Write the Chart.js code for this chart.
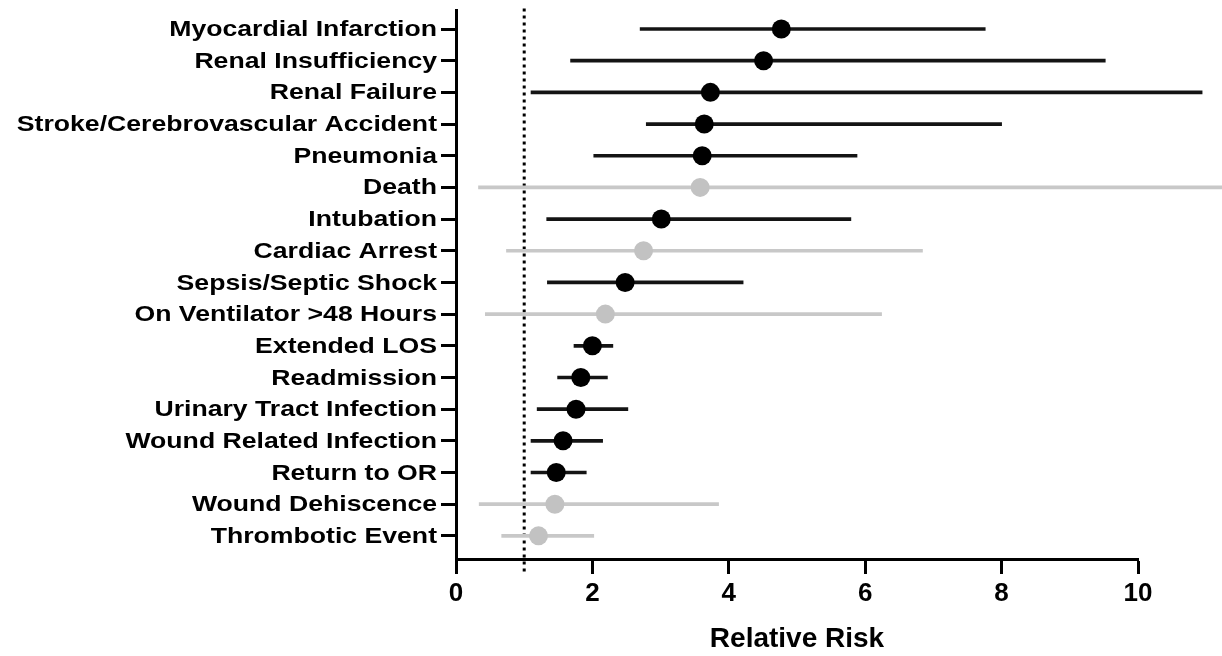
<!DOCTYPE html>
<html lang="en">
<head>
<meta charset="UTF-8">
<title>Relative Risk</title>
<script src="https://cdn.jsdelivr.net/npm/chart.js"></script>
<style>
  body { margin: 0; background: #fff; }
  .box { width: 1222px; height: 656px; }
</style>
</head>
<body>
<div class="box"><canvas id="grafico"></canvas></div>
<script>
const categories = ['Myocardial Infarction', 'Renal Insufficiency', 'Renal Failure',
  'Stroke/Cerebrovascular Accident', 'Pneumonia', 'Death', 'Intubation', 'Cardiac Arrest',
  'Sepsis/Septic Shock', 'On Ventilator >48 Hours', 'Extended LOS', 'Readmission',
  'Urinary Tract Infection', 'Wound Related Infection', 'Return to OR', 'Wound Dehiscence',
  'Thrombotic Event'];
const relRisk = [4.77, 4.51, 3.73, 3.64, 3.61, 3.58, 3.01, 2.75, 2.48, 2.19, 2.00, 1.83, 1.76, 1.57, 1.47, 1.45, 1.21];
const ciLower = [2.70, 1.68, 1.10, 2.79, 2.02, 0.33, 1.33, 0.74, 1.34, 0.43, 1.73, 1.49, 1.19, 1.10, 1.10, 0.34, 0.67];
const ciUpper = [7.76, 9.52, 10.94, 8.00, 5.88, 11.5, 5.79, 6.84, 4.21, 6.24, 2.30, 2.22, 2.52, 2.15, 1.91, 3.85, 2.02];
const significant = [true, true, true, true, true, false, true, false, true, false, true, true, true, true, true, false, false];
const xTicks = [0, 2, 4, 6, 8, 10];
const refLine = 1;

const BLACK = '#000';
const GREY = '#c2c2c2';
const fontFam = '"Liberation Sans", Arial, sans-serif';

const colors = significant.map(s => s ? BLACK : GREY);
const lineColors = significant.map(s => s ? '#141414' : '#c8c8c8');

// the row labels in the figure are set wide, so draw them stretched
const wideLabels = {
  id: 'wideLabels',
  afterDraw(chart) {
    const ys = chart.scales.y;
    const ctx = chart.ctx;
    const x = ys.right - 19;
    ctx.save();
    ctx.fillStyle = BLACK;
    ctx.font = 'bold 22px ' + fontFam;
    ctx.textAlign = 'right';
    ctx.textBaseline = 'middle';
    categories.forEach((c, i) => {
      ctx.save();
      ctx.translate(x, ys.getPixelForValue(i + 1) + 1);
      ctx.scale(1.21, 1);
      ctx.fillText(c, 0, 0);
      ctx.restore();
    });
    ctx.restore();
  }
};

new Chart(document.getElementById('grafico'), {
  type: 'scatter',
  data: {
    datasets: [
      {
        label: 'Relative Risk',
        order: 0,
        data: categories.map((c, i) => ({ x: relRisk[i], y: i + 1 })),
        pointBackgroundColor: colors,
        pointBorderWidth: 0,
        pointRadius: 9.5,
        clip: false
      },
      {
        type: 'bar',
        label: '95% CI',
        order: 1,
        indexAxis: 'y',
        data: categories.map((c, i) => ({ x: [ciLower[i], ciUpper[i]], y: i + 1 })),
        backgroundColor: lineColors,
        borderWidth: 0,
        barThickness: 3,
        clip: false
      },
      {
        type: 'line',
        label: 'ref',
        order: 2,
        data: [{ x: refLine, y: 0.35 }, { x: refLine, y: 18.15 }],
        borderColor: BLACK,
        borderWidth: 3,
        borderDash: [3, 4],
        pointRadius: 0,
        clip: false
      }
    ]
  },
  plugins: [wideLabels],
  options: {
    responsive: true,
    maintainAspectRatio: false,
    animation: false,
    layout: { padding: { top: 10, right: 84, left: 0, bottom: 0 } },
    plugins: {
      legend: { display: false },
      tooltip: { enabled: false }
    },
    scales: {
      x: {
        type: 'linear',
        min: 0,
        max: 10,
        afterBuildTicks: s => { s.ticks = xTicks.map(v => ({ value: v })); },
        afterFit: s => { s.height = 97; },
        ticks: { color: BLACK, padding: 4, font: { family: fontFam, size: 26, weight: 'bold' } },
        grid: { drawOnChartArea: false, tickLength: 15, tickWidth: 3, tickColor: BLACK },
        border: { color: BLACK, width: 3 },
        title: {
          display: true,
          text: 'Relative Risk',
          color: BLACK,
          padding: { top: 0, bottom: 0 },
          font: { family: fontFam, size: 28, weight: 'bold' }
        }
      },
      y: {
        type: 'linear',
        reverse: true,
        offset: false,
        min: 0.4,
        max: 17.73,
        afterBuildTicks: s => { s.ticks = categories.map((c, i) => ({ value: i + 1 })); },
        afterFit: s => { s.width = 456; },
        ticks: { display: false },
        grid: { offset: false, drawOnChartArea: false, tickLength: 15, tickWidth: 3, tickColor: BLACK },
        border: { color: BLACK, width: 3 }
      }
    }
  }
});
</script>
</body>
</html>
